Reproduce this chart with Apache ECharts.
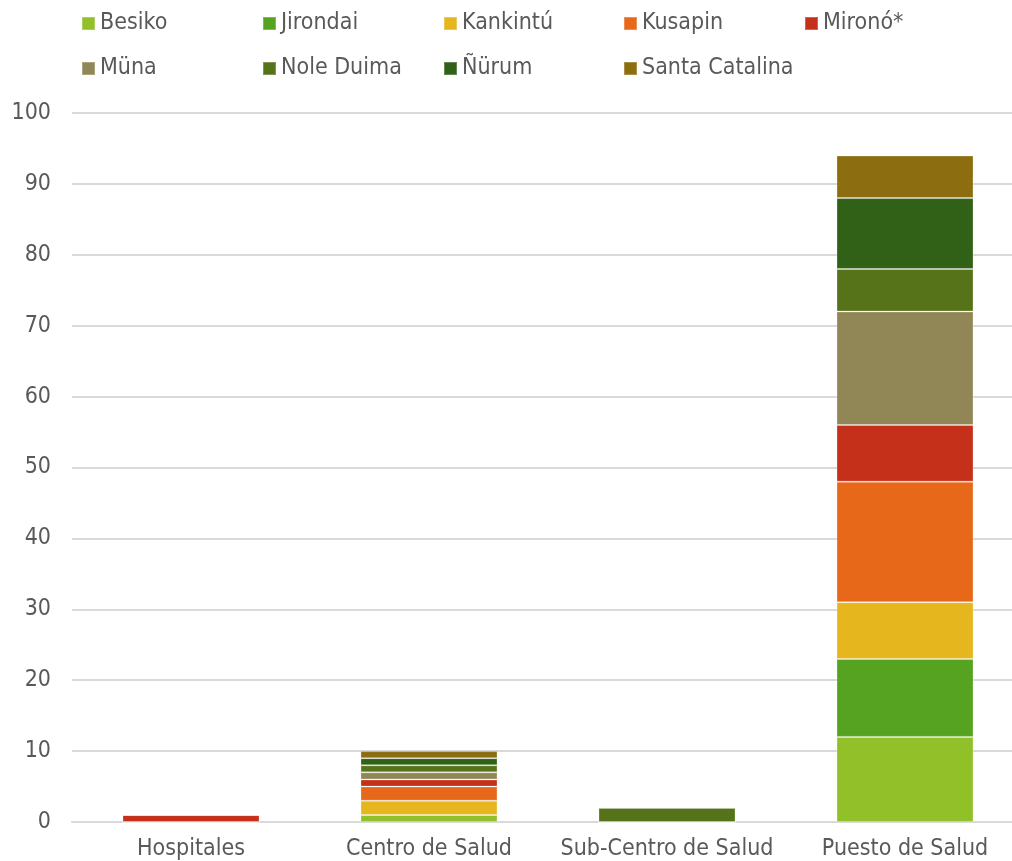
<!DOCTYPE html>
<html><head><meta charset="utf-8">
<script src="https://cdn.jsdelivr.net/npm/echarts@6/dist/echarts.min.js"></script>
<style>html,body{margin:0;padding:0;background:#fff;overflow:hidden}#c{width:1024px;height:861px}</style>
</head><body><div id="c"></div>
<script>
const categories = ['Hospitales', 'Centro de Salud', 'Sub-Centro de Salud', 'Puesto de Salud'];
const seriesNames = ['Besiko', 'Jirondai', 'Kankintú', 'Kusapin', 'Mironó*', 'Müna', 'Nole Duima', 'Ñürum', 'Santa Catalina'];
const besiko = [0, 1, 0, 12];
const jirondai = [0, 0, 0, 11];
const kankintu = [0, 2, 0, 8];
const kusapin = [0, 2, 0, 17];
const mirono = [1, 1, 0, 8];
const muna = [0, 1, 0, 16];
const noleDuima = [0, 1, 2, 6];
const nurum = [0, 1, 0, 10];
const santaCatalina = [0, 1, 0, 6];
const yTicks = [0, 10, 20, 30, 40, 50, 60, 70, 80, 90, 100];

const values = [besiko, jirondai, kankintu, kusapin, mirono, muna, noleDuima, nurum, santaCatalina];
const colors = ['#92C028', '#55A321', '#E6B61E', '#E8681A', '#C5301B', '#918655', '#56731A', '#316117', '#8C6D10'];
const FONT = '"DejaVu Sans Condensed", "DejaVu Sans", sans-serif';

const legendCols = [81, 262, 443, 623, 804];
const legends = seriesNames.map((n, i) => ({
  data: [n],
  left: legendCols[i % 5],
  top: i < 5 ? 12 : 57,
  itemWidth: 13, itemHeight: 13, itemGap: 0,
  padding: 0,
  icon: 'rect',
  textStyle: { fontFamily: FONT, fontSize: 23, color: '#595959', padding: [0, 0, 0, 0] }
}));

const chart = echarts.init(document.getElementById('c'), null, { renderer: 'canvas' });
chart.setOption({
  animation: false,
  color: colors,
  legend: legends,
  grid: { left: 72, top: 113, right: 0, bottom: 39, containLabel: false },
  xAxis: {
    type: 'category', data: categories,
    axisLine: { lineStyle: { color: '#d9d9d9', width: 2 } },
    axisTick: { show: false },
    axisLabel: { fontFamily: FONT, fontSize: 23, color: '#595959', margin: 16, interval: 0 }
  },
  yAxis: {
    type: 'value', min: yTicks[0], max: yTicks[yTicks.length - 1], interval: 10,
    axisLine: { show: false }, axisTick: { show: false },
    splitLine: { lineStyle: { color: '#d9d9d9', width: 2 } },
    axisLabel: { fontFamily: FONT, fontSize: 23, color: '#595959', margin: 21 }
  },
  series: seriesNames.map((n, i) => ({
    name: n, type: 'bar', stack: 'total', barWidth: 137,
    data: values[i],
    itemStyle: { color: colors[i], borderColor: 'rgba(255,255,255,0.25)', borderWidth: 1 }
  }))
});
</script></body></html>
